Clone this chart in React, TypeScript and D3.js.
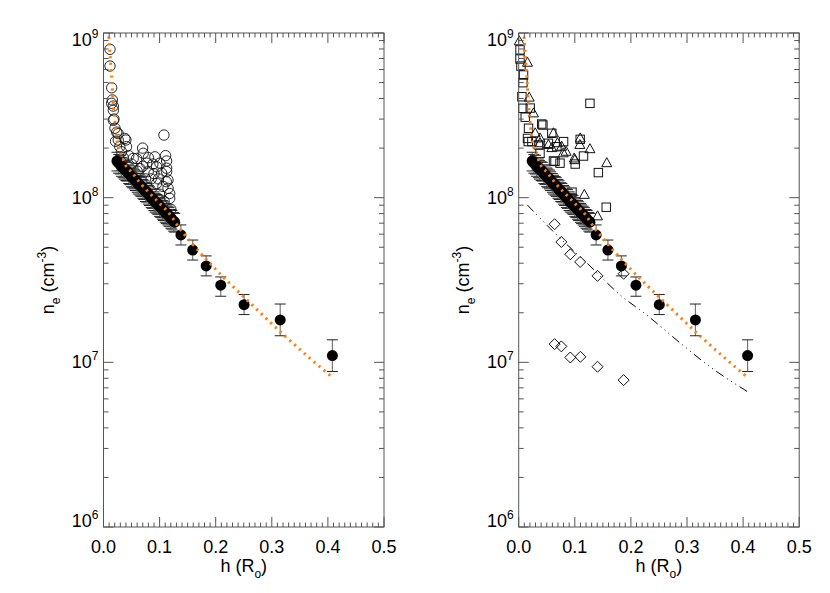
import React from 'react';
import * as d3 from 'd3';

// --- data -----------------------------------------------------------------
// dense series of measurements (filled circles), relative error
const chainH = [0.024, 0.027, 0.030, 0.032, 0.035, 0.037, 0.040, 0.042, 0.045, 0.047, 0.050, 0.052, 0.055, 0.057, 0.060, 0.062, 0.065, 0.067, 0.070, 0.072, 0.075, 0.077, 0.080, 0.082, 0.085, 0.087, 0.090, 0.092, 0.095, 0.097, 0.100, 0.102, 0.105, 0.107, 0.110, 0.112, 0.115, 0.117, 0.120, 0.122, 0.125, 0.127];
const chainN = [1.67e8, 1.62e8, 1.60e8, 1.55e8, 1.52e8, 1.49e8, 1.46e8, 1.45e8, 1.40e8, 1.38e8, 1.34e8, 1.32e8, 1.30e8, 1.27e8, 1.24e8, 1.21e8, 1.19e8, 1.17e8, 1.14e8, 1.12e8, 1.09e8, 1.08e8, 1.05e8, 1.03e8, 1.0e8, 9.9e7, 9.6e7, 9.4e7, 9.25e7, 9.1e7, 8.85e7, 8.7e7, 8.5e7, 8.35e7, 8.15e7, 8.0e7, 7.85e7, 7.7e7, 7.5e7, 7.4e7, 7.2e7, 7.1e7];
const chainErr = 0.13;

// sparse measurements with error bars
const bigH = [0.138, 0.159, 0.183, 0.209, 0.2506, 0.315, 0.408];
const bigN = [5.94e7, 4.81e7, 3.85e7, 2.94e7, 2.24e7, 1.81e7, 1.10e7];
const bigLo = [5.16e7, 4.18e7, 3.35e7, 2.52e7, 1.95e7, 1.45e7, 8.8e6];
const bigHi = [6.83e7, 5.53e7, 4.43e7, 3.3e7, 2.58e7, 2.26e7, 1.37e7];

// model curve (orange dotted)
const modelH = [0.0095, 0.0115, 0.0133, 0.0152, 0.0169, 0.0187, 0.0205, 0.0222, 0.0264, 0.0324, 0.040, 0.0502, 0.065, 0.0827, 0.1005, 0.118, 0.133, 0.155, 0.201, 0.261, 0.32, 0.406];
const modelN = [9.5e8, 7.6e8, 6.2e8, 5.0e8, 3.9e8, 3.3e8, 2.9e8, 2.47e8, 2.05e8, 1.8e8, 1.56e8, 1.43e8, 1.23e8, 1.06e8, 9.2e7, 7.96e7, 6.7e7, 5.41e7, 3.64e7, 2.3e7, 1.48e7, 8.2e6];

// second model (black dash-dot, right panel)
const model2H = [0.0153, 0.0617, 0.127, 0.1806, 0.228, 0.288, 0.341, 0.409];
const model2N = [9.04e7, 6.22e7, 3.85e7, 2.57e7, 1.94e7, 1.31e7, 9.4e6, 6.6e6];

// open circles (left panel)
const circH = [0.0116, 0.0116, 0.0146, 0.0157, 0.0175, 0.0146, 0.0175, 0.0187, 0.0175, 0.0205, 0.0235, 0.026, 0.0263, 0.029, 0.038, 0.040, 0.041, 0.1077, 0.0697, 0.0708, 0.0916, 0.1107, 0.1125, 0.1125, 0.115, 0.118, 0.059, 0.077, 0.0947, 0.1125, 0.115, 0.118, 0.1005, 0.1036, 0.0947, 0.106, 0.0797, 0.053, 0.032, 0.045, 0.05, 0.065, 0.085, 0.09, 0.075, 0.1, 0.108, 0.12, 0.06, 0.035, 0.088, 0.098, 0.112, 0.07, 0.08, 0.0215];
const circN = [7.96e8, 6.3e8, 4.65e8, 3.92e8, 3.6e8, 3.74e8, 3.4e8, 3.0e8, 2.95e8, 2.64e8, 2.5e8, 2.45e8, 2.24e8, 2.04e8, 2.29e8, 2.24e8, 2.04e8, 2.4e8, 2.0e8, 1.86e8, 1.77e8, 1.8e8, 1.67e8, 1.44e8, 1.14e8, 1.06e8, 1.73e8, 1.62e8, 1.54e8, 1.51e8, 1.28e8, 9.9e7, 1.62e8, 1.41e8, 1.22e8, 1.17e8, 1.44e8, 1.73e8, 1.9e8, 1.8e8, 1.6e8, 1.5e8, 1.3e8, 1.4e8, 1.3e8, 1.05e8, 9.5e7, 8.5e7, 1.45e8, 1.75e8, 1.6e8, 1.3e8, 1.25e8, 1.55e8, 1.75e8, 2.2e8];

// right panel open markers
const triH = [0.001, 0.0157, 0.0187, 0.0264, 0.0294, 0.038, 0.062, 0.069, 0.1096, 0.127, 0.157, 0.117, 0.099, 0.0845, 0.0765, 0.059, 0.038, 0.1405, 0.053, 0.0795, 0.1, 0.109];
const triN = [8.9e8, 6.6e8, 4.05e8, 3.25e8, 2.46e8, 2.29e8, 2.46e8, 2.14e8, 2.29e8, 1.97e8, 1.62e8, 1.04e8, 1.73e8, 1.9e8, 2.04e8, 2.0e8, 2.14e8, 7.7e7, 2.09e8, 1.86e8, 1.69e8, 2.09e8];

const sqH = [0.0023, 0.0023, 0.004, 0.0086, 0.0075, 0.0057, 0.0075, 0.0116, 0.0175, 0.0157, 0.0235, 0.0431, 0.059, 0.0353, 0.053, 0.068, 0.080, 0.127, 0.1096, 0.1155, 0.1007, 0.142, 0.062, 0.0736, 0.095, 0.156, 0.041, 0.0205, 0.017, 0.038, 0.0647];
const sqN = [7.9e8, 6.95e8, 6.3e8, 5.56e8, 4.99e8, 4.1e8, 3.49e8, 3.08e8, 2.64e8, 2.29e8, 2.19e8, 2.76e8, 2.46e8, 2.09e8, 2.14e8, 2.04e8, 2.19e8, 3.74e8, 2.26e8, 1.79e8, 1.6e8, 1.42e8, 1.67e8, 1.62e8, 1.08e8, 8.75e7, 2.8e8, 3.5e8, 2.19e8, 1.86e8, 1.66e8];

const diaH = [0.064, 0.076, 0.092, 0.1096, 0.1405, 0.187, 0.064, 0.076, 0.092, 0.11, 0.1405, 0.187];
const diaN = [6.9e7, 5.38e7, 4.53e7, 4.07e7, 3.35e7, 3.45e7, 1.29e7, 1.25e7, 1.07e7, 1.08e7, 9.4e6, 7.8e6];

const xTicks = [0, 0.1, 0.2, 0.3, 0.4, 0.5];
const xTickLabels = ['0.0', '0.1', '0.2', '0.3', '0.4', '0.5'];
const yTicks = [1e6, 1e7, 1e8, 1e9];
const yTickExp = ['6', '7', '8', '9'];

// --- layout ---------------------------------------------------------------
const W = 830;
const H = 593;
const TOP = 33;
const BOTTOM = 527;
const FONT = '"Liberation Sans", Arial, Helvetica, sans-serif';
const AXIS = '#555';
const ORANGE = '#ff7f0e';

const zip = (a: number[], b: number[]) => a.map((v, i) => [v, b[i]] as [number, number]);

const Panel = ({ x0, x1, right }: { x0: number; x1: number; right: boolean }) => {
  const x = d3.scaleLinear().domain([0, 0.5]).range([x0, x1]);
  const y = d3.scaleLog().domain([1e6, 1e9]).range([BOTTOM, TOP]);

  const minorX = d3.range(1, 50).filter((i) => i % 10 !== 0).map((i) => i / 100);
  const minorY: number[] = [];
  [1e6, 1e7, 1e8].forEach((d) => d3.range(2, 10).forEach((k) => minorY.push(k * d)));

  const line = d3.line<[number, number]>()
    .x((d) => x(d[0]))
    .y((d) => y(d[1]))
    .curve(d3.curveMonotoneX);

  const chain = chainH.map((h, i) => ({ h, n: chainN[i], lo: chainN[i] * (1 - chainErr), hi: chainN[i] * (1 + chainErr) }));
  const big = bigH.map((h, i) => ({ h, n: bigN[i], lo: bigLo[i], hi: bigHi[i] }));
  const meas = [...chain, ...big];

  const tri = (cx: number, cy: number) => `M${cx},${cy - 5.5}L${cx + 5},${cy + 3.5}L${cx - 5},${cy + 3.5}Z`;
  const dia = (cx: number, cy: number) => `M${cx},${cy - 5.5}L${cx + 5.5},${cy}L${cx},${cy + 5.5}L${cx - 5.5},${cy}Z`;

  const yLabelDy = (i: number) => (i === 3 ? 13 : i === 0 ? 0 : 6);

  return (
    <g>
      {/* open markers */}
      {!right && zip(circH, circN).map((d, i) => (
        <circle key={'c' + i} cx={x(d[0])} cy={y(d[1])} r={5.2} fill="none" stroke="#111" strokeWidth={0.9} />
      ))}
      {right && zip(sqH, sqN).map((d, i) => (
        <rect key={'s' + i} x={x(d[0]) - 4.2} y={y(d[1]) - 4.2} width={8.4} height={8.4} fill="none" stroke="#111" strokeWidth={1} />
      ))}
      {right && zip(triH, triN).map((d, i) => (
        <path key={'t' + i} d={tri(x(d[0]), y(d[1]))} fill="none" stroke="#111" strokeWidth={1} />
      ))}

      {/* error bars */}
      {meas.map((d, i) => (
        <g key={'e' + i}>
          <line x1={x(d.h)} x2={x(d.h)} y1={y(d.lo)} y2={y(d.hi)} stroke="#777" strokeWidth={1.2} />
          <line x1={x(d.h) - 5.5} x2={x(d.h) + 5.5} y1={y(d.lo)} y2={y(d.lo)} stroke="#222" strokeWidth={1} />
          <line x1={x(d.h) - 5.5} x2={x(d.h) + 5.5} y1={y(d.hi)} y2={y(d.hi)} stroke="#222" strokeWidth={1} />
        </g>
      ))}
      {meas.map((d, i) => (
        <circle key={'f' + i} cx={x(d.h)} cy={y(d.n)} r={5.5} fill="#000" />
      ))}

      {right && zip(diaH, diaN).map((d, i) => (
        <path key={'d' + i} d={dia(x(d[0]), y(d[1]))} fill="none" stroke="#111" strokeWidth={1} />
      ))}

      {right && (
        <path d={line(zip(model2H, model2N)) || ''} fill="none" stroke="#000" strokeWidth={1}
          strokeDasharray="9,4,1,4,1,4,1,4" />
      )}
      <path d={line(zip(modelH, modelN)) || ''} fill="none" stroke={ORANGE} strokeWidth={3}
        strokeDasharray="2.2,4.3" />

      {/* frame */}
      <rect x={x0} y={TOP} width={x1 - x0} height={BOTTOM - TOP} fill="none" stroke={AXIS} strokeWidth={1} />
      {xTicks.map((t) => (
        <g key={'xt' + t}>
          <line x1={x(t)} x2={x(t)} y1={BOTTOM} y2={BOTTOM - 10} stroke={AXIS} />
          <line x1={x(t)} x2={x(t)} y1={TOP} y2={TOP + 10} stroke={AXIS} />
        </g>
      ))}
      {minorX.map((t) => (
        <g key={'xm' + t}>
          <line x1={x(t)} x2={x(t)} y1={BOTTOM} y2={BOTTOM - 4.5} stroke={AXIS} />
          <line x1={x(t)} x2={x(t)} y1={TOP} y2={TOP + 4.5} stroke={AXIS} />
        </g>
      ))}
      {yTicks.map((t) => (
        <g key={'yt' + t}>
          <line x1={x0} x2={x0 + 10} y1={y(t)} y2={y(t)} stroke={AXIS} />
          <line x1={x1} x2={x1 - 10} y1={y(t)} y2={y(t)} stroke={AXIS} />
        </g>
      ))}
      {minorY.map((t) => (
        <g key={'ym' + t}>
          <line x1={x0} x2={x0 + 5} y1={y(t)} y2={y(t)} stroke={AXIS} />
          <line x1={x1} x2={x1 - 5} y1={y(t)} y2={y(t)} stroke={AXIS} />
        </g>
      ))}

      {/* tick labels */}
      {xTicks.map((t, i) => (
        <text key={'xl' + t} x={x(t)} y={553} textAnchor="middle" fontSize={18} fontFamily={FONT} fill="#000">
          {xTickLabels[i]}
        </text>
      ))}
      {yTicks.map((t, i) => (
        <text key={'yl' + t} x={x0 - 5} y={y(t) + yLabelDy(i)} textAnchor="end" fontSize={18} fontFamily={FONT} fill="#000">
          10<tspan dy={-8} fontSize={12}>{yTickExp[i]}</tspan>
        </text>
      ))}

      {/* axis titles */}
      <text x={(x0 + x1) / 2} y={572} textAnchor="middle" fontSize={18} fontFamily={FONT} fill="#000">
        h (R<tspan dy={6} fontSize={12}>o</tspan><tspan dy={-6}>)</tspan>
      </text>
      <text transform={`translate(${x0 - 50},${(TOP + BOTTOM) / 2}) rotate(-90)`} textAnchor="middle" fontSize={18} fontFamily={FONT} fill="#000">
        n<tspan dy={6} fontSize={12}>e</tspan><tspan dy={-6}> (cm</tspan><tspan dy={-8} fontSize={12}>-3</tspan><tspan dy={8}>)</tspan>
      </text>
    </g>
  );
};

export default function App() {
  return (
    <svg width={W} height={H} viewBox={`0 0 ${W} ${H}`}
      style={{ position: 'absolute', left: 0, top: 0, background: '#fff' }}>
      <rect width={W} height={H} fill="#fff" />
      <Panel x0={103.5} x1={384} right={false} />
      <Panel x0={518.7} x1={799.2} right={true} />
    </svg>
  );
}
